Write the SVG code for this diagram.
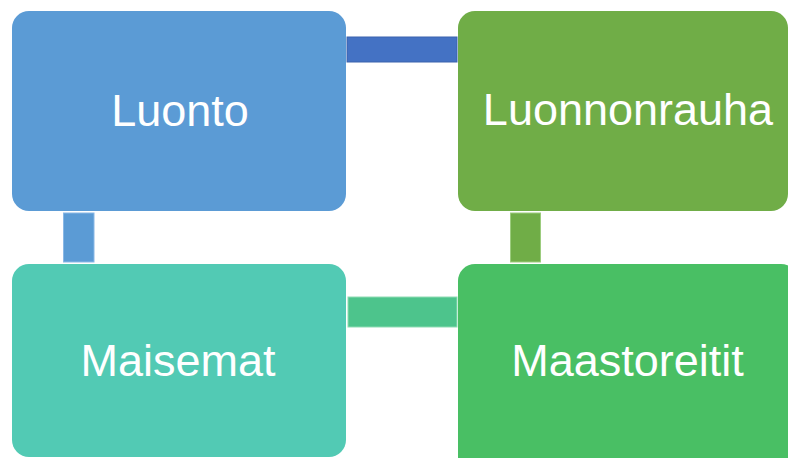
<svg xmlns="http://www.w3.org/2000/svg" width="788" height="458" viewBox="0 0 788 458">
<style>
.lbl{font-family:"Liberation Sans",Arial,sans-serif;font-size:45px;fill:#ffffff;text-anchor:middle}
</style>
<rect width="788" height="458" fill="#ffffff"/>
<g id="connectors">
<rect x="347" y="37" width="110" height="25" fill="#4472C4" stroke="#3a63ad" stroke-width="1"/>
<rect x="63.5" y="213" width="30.5" height="49" fill="#5B9BD5" stroke="#8ab8e6" stroke-width="1"/>
<rect x="510.5" y="213" width="30" height="49" fill="#70AD47" stroke="#9ccc7e" stroke-width="1"/>
<rect x="348" y="297" width="109" height="30" fill="#4DC48C" stroke="#8fdcb4" stroke-width="1"/>
</g>
<g id="luonto">
<rect x="12" y="11" width="334" height="200" rx="17" fill="#5B9BD5"/>
<text class="lbl" x="180" y="126">Luonto</text>
</g>
<g id="luonnonrauha">
<rect x="458" y="11" width="330" height="200" rx="17" fill="#70AD47"/>
<text class="lbl" x="628" y="125">Luonnonrauha</text>
</g>
<g id="maisemat">
<rect x="12" y="264" width="334" height="193" rx="17" fill="#52CAB4"/>
<text class="lbl" x="178" y="376">Maisemat</text>
</g>
<g id="maastoreitit">
<rect x="458" y="264" width="340" height="210" rx="17" fill="#49BF64"/>
<text class="lbl" x="627.5" y="376">Maastoreitit</text>
</g>
</svg>
